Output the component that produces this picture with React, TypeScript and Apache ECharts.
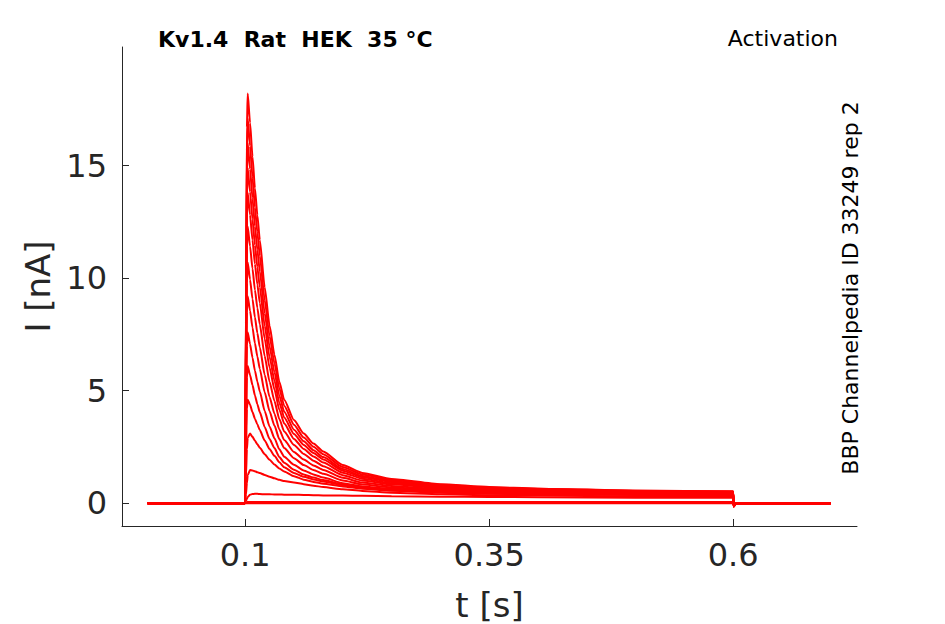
import React, { useEffect, useRef } from "react";
import * as echarts from "echarts";

// time points [s]
const TIME = [0, 0.0998, 0.1008, 0.1018, 0.1026, 0.105, 0.1075, 0.11, 0.1125, 0.115, 0.12, 0.125, 0.13, 0.135, 0.14, 0.15, 0.16, 0.17, 0.18, 0.2, 0.22, 0.25, 0.3, 0.35, 0.4, 0.5, 0.6, 0.6005, 0.603, 0.7];

// current traces [nA]
const TRACE_01 = [0, 0, 9.1, 16.7, 18.2, 16.9, 15.4, 14.0, 12.8, 11.7, 9.6, 7.9, 6.6, 5.4, 4.6, 3.7, 3.1, 2.65, 2.3, 1.7, 1.35, 1.08, 0.85, 0.72, 0.65, 0.57, 0.53, -0.15, 0, 0];
const TRACE_02 = [0, 0, 8.6, 15.7, 17.1, 15.87, 14.48, 13.15, 12.03, 11.0, 9.03, 7.43, 6.22, 5.1, 4.33, 3.49, 2.92, 2.51, 2.18, 1.61, 1.28, 1.03, 0.82, 0.7, 0.64, 0.55, 0.52, -0.15, 0, 0];
const TRACE_03 = [0, 0, 8.0, 14.7, 16.0, 14.85, 13.55, 12.31, 11.26, 10.3, 8.45, 6.96, 5.83, 4.78, 4.07, 3.27, 2.75, 2.36, 2.05, 1.52, 1.21, 0.98, 0.78, 0.67, 0.61, 0.53, 0.5, -0.14, 0, 0];
const TRACE_04 = [0, 0, 7.5, 13.7, 14.9, 13.83, 12.62, 11.47, 10.49, 9.6, 7.89, 6.5, 5.45, 4.47, 3.81, 3.08, 2.59, 2.23, 1.94, 1.45, 1.16, 0.95, 0.76, 0.66, 0.6, 0.53, 0.5, -0.14, 0, 0];
const TRACE_05 = [0, 0, 6.9, 12.7, 13.8, 12.81, 11.7, 10.63, 9.72, 8.9, 7.31, 6.03, 5.06, 4.16, 3.54, 2.86, 2.41, 2.08, 1.81, 1.36, 1.09, 0.89, 0.72, 0.63, 0.57, 0.51, 0.48, -0.13, 0, 0];
const TRACE_06 = [0, 0, 6.2, 11.3, 12.3, 11.42, 10.43, 9.48, 8.68, 7.95, 6.54, 5.4, 4.54, 3.74, 3.19, 2.59, 2.19, 1.89, 1.65, 1.25, 1.01, 0.84, 0.68, 0.6, 0.55, 0.5, 0.47, -0.13, 0, 0];
const TRACE_07 = [0, 0, 5.4, 9.8, 10.7, 9.94, 9.08, 8.26, 7.56, 6.93, 5.71, 4.72, 3.98, 3.28, 2.81, 2.28, 1.94, 1.68, 1.48, 1.13, 0.92, 0.77, 0.63, 0.56, 0.52, 0.47, 0.45, -0.12, 0, 0];
const TRACE_08 = [0, 0, 4.6, 8.5, 9.2, 8.55, 7.81, 7.11, 6.52, 5.97, 4.93, 4.09, 3.45, 2.85, 2.45, 2.0, 1.7, 1.48, 1.31, 1.01, 0.83, 0.7, 0.59, 0.53, 0.49, 0.45, 0.43, -0.12, 0, 0];
const TRACE_09 = [0, 0, 3.8, 7.0, 7.6, 7.07, 6.47, 5.89, 5.4, 4.96, 4.1, 3.41, 2.89, 2.4, 2.07, 1.71, 1.46, 1.28, 1.14, 0.89, 0.75, 0.64, 0.55, 0.5, 0.46, 0.43, 0.42, -0.11, 0, 0];
const TRACE_10 = [0, 0, 3.0, 5.6, 6.1, 5.7, 5.25, 4.79, 4.4, 4.05, 3.39, 2.85, 2.45, 2.05, 1.8, 1.49, 1.28, 1.14, 1.03, 0.83, 0.7, 0.6, 0.52, 0.47, 0.44, 0.41, 0.4, -0.11, 0, 0];
const TRACE_11 = [0, 0, 2.2, 4.2, 4.6, 4.38, 4.05, 3.76, 3.5, 3.25, 2.79, 2.41, 2.11, 1.82, 1.6, 1.35, 1.18, 1.06, 0.97, 0.8, 0.68, 0.58, 0.5, 0.45, 0.42, 0.39, 0.38, -0.1, 0, 0];
const TRACE_12 = [0, 0, 1.2, 2.4, 2.9, 3.1, 2.95, 2.78, 2.62, 2.47, 2.18, 1.93, 1.72, 1.55, 1.41, 1.2, 1.05, 0.95, 0.87, 0.75, 0.65, 0.56, 0.47, 0.42, 0.4, 0.37, 0.35, -0.1, 0, 0];
const TRACE_13 = [0, 0, 0.4, 0.9, 1.25, 1.48, 1.46, 1.42, 1.38, 1.34, 1.26, 1.18, 1.11, 1.04, 0.99, 0.92, 0.85, 0.78, 0.72, 0.62, 0.55, 0.47, 0.4, 0.36, 0.34, 0.31, 0.3, -0.08, 0, 0];
const TRACE_14 = [0, 0, 0.1, 0.2, 0.28, 0.38, 0.41, 0.42, 0.42, 0.41, 0.4, 0.4, 0.39, 0.39, 0.38, 0.38, 0.37, 0.36, 0.35, 0.34, 0.33, 0.31, 0.29, 0.28, 0.27, 0.25, 0.24, -0.06, 0, 0];
const TRACE_15 = [0, 0, 0.03, 0.05, 0.06, 0.06, 0.06, 0.06, 0.06, 0.06, 0.06, 0.06, 0.06, 0.06, 0.06, 0.06, 0.06, 0.06, 0.06, 0.06, 0.06, 0.06, 0.06, 0.06, 0.06, 0.06, 0.06, 0, 0, 0];
const TRACE_16 = [0, 0, 0, 0, 0, 0, 0, 0, 0, 0, 0, 0, 0, 0, 0, 0, 0, 0, 0, 0, 0, 0, 0, 0, 0, 0, 0, 0, 0, 0];

const TRACES = [TRACE_16, TRACE_15, TRACE_14, TRACE_13, TRACE_12, TRACE_11, TRACE_10, TRACE_09, TRACE_08, TRACE_07, TRACE_06, TRACE_05, TRACE_04, TRACE_03, TRACE_02, TRACE_01];

const X_TICKS = [0.1, 0.35, 0.6];
const Y_TICKS = [0, 5, 10, 15];

const TITLE = "Kv1.4  Rat  HEK  35 °C";
const PROTOCOL = "Activation";
const SOURCE = "BBP Channelpedia ID 33249 rep 2";

const FONT = "DejaVu Sans";
const AXIS_COLOR = "#262626";

export default function App() {
  const ref = useRef<HTMLDivElement>(null);

  useEffect(() => {
    if (!ref.current) return;
    const chart = echarts.init(ref.current, undefined, { renderer: "svg" });

    const series = TRACES.map((trace, k) => ({
      type: "line",
      name: "trace" + k,
      data: TIME.map((t, i) => [t, trace[i]]),
      showSymbol: false,
      symbol: "none",
      smooth: 0.2,
      smoothMonotone: "x",
      lineStyle: { color: "#ff0000", width: 2 },
      itemStyle: { color: "#ff0000" },
      silent: true,
    }));

    chart.setOption({
      animation: false,
      backgroundColor: "#ffffff",
      grid: { left: 122, top: 47, width: 735, height: 479, containLabel: false, outerBoundsMode: "none" },
      xAxis: {
        type: "value",
        min: -0.0262,
        max: 0.7269,
        name: "t [s]",
        nameLocation: "middle",
        nameGap: 62,
        nameTextStyle: { fontFamily: FONT, fontSize: 34, color: AXIS_COLOR },
        axisLine: { show: true, onZero: false, lineStyle: { color: AXIS_COLOR, width: 1 } },
        axisTick: { show: true, inside: true, length: 7, customValues: X_TICKS, lineStyle: { color: AXIS_COLOR } },
        axisLabel: {
          customValues: X_TICKS,
          fontFamily: FONT,
          fontSize: 32,
          color: AXIS_COLOR,
          margin: 13,
          formatter: (v: number) => String(v),
        },
        splitLine: { show: false },
      },
      yAxis: {
        type: "value",
        min: -1.01,
        max: 20.27,
        name: "I [nA]",
        nameLocation: "middle",
        nameGap: 66,
        nameRotate: 90,
        nameTextStyle: { fontFamily: FONT, fontSize: 34, color: AXIS_COLOR },
        axisLine: { show: true, onZero: false, lineStyle: { color: AXIS_COLOR, width: 1 } },
        axisTick: { show: true, inside: true, length: 7, customValues: Y_TICKS, lineStyle: { color: AXIS_COLOR } },
        axisLabel: {
          customValues: Y_TICKS,
          fontFamily: FONT,
          fontSize: 32,
          color: AXIS_COLOR,
          margin: 15,
          formatter: (v: number) => String(v),
        },
        splitLine: { show: false },
      },
      graphic: [
        {
          type: "text",
          left: 158,
          top: 28,
          style: { text: TITLE, fontFamily: FONT, fontSize: 22, fontWeight: "bold", fill: "#000000" },
        },
        {
          type: "text",
          right: 945 - 838,
          top: 27,
          style: { text: PROTOCOL, fontFamily: FONT, fontSize: 22, fill: "#000000" },
        },
        {
          type: "text",
          x: 850,
          y: 288,
          rotation: Math.PI / 2,
          style: {
            text: SOURCE,
            fontFamily: FONT,
            fontSize: 22,
            fill: "#000000",
            align: "center",
            verticalAlign: "middle",
          },
        },
      ],
      series,
    });

    return () => chart.dispose();
  }, []);

  return (
    <div
      ref={ref}
      style={{ position: "fixed", left: 0, top: 0, width: 945, height: 624, background: "#fff" }}
    />
  );
}
